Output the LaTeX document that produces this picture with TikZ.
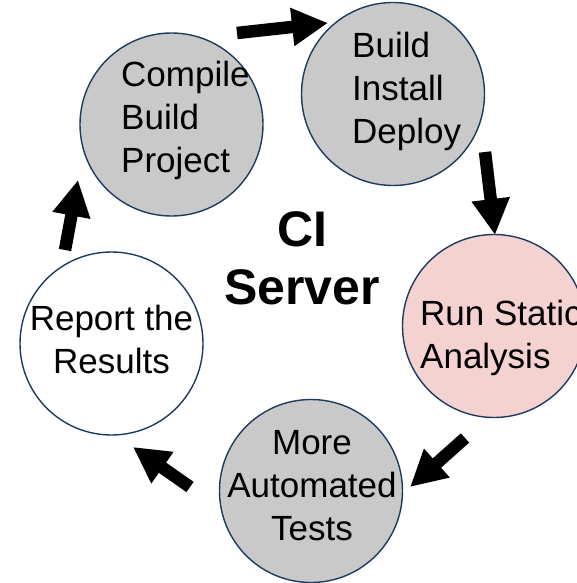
\documentclass[tikz,border=0pt]{standalone}
\usepackage{fontspec}
\setmainfont{Liberation Sans}
\usetikzlibrary{arrows.meta}
\definecolor{ringline}{HTML}{1F3A60}
\definecolor{stepgray}{HTML}{C9C9C9}
\definecolor{steppink}{HTML}{F4D2D0}
\tikzset{
  stepcircle/.style={circle, draw=ringline, line width=1.4pt, minimum size=183pt, inner sep=0pt},
  steptext/.style={inner sep=0pt, font=\fontsize{35}{43}\selectfont},
  bigarrow/.style={line width=12.5pt, -{Triangle[width=36pt,length=36pt]}},
}
\begin{document}
\begin{tikzpicture}[x=1pt,y=-1pt]
\useasboundingbox (0,0) rectangle (577,583);
\clip (0,0) rectangle (577,583);
% circles
\node[stepcircle, fill=stepgray] (compile) at (171.5,124.5) {};
\node[stepcircle, fill=stepgray] (deploy) at (393,94) {};
\node[stepcircle, fill=steppink] (static) at (494,326) {};
\node[stepcircle, fill=stepgray] (tests) at (311,491) {};
\node[stepcircle, fill=white] (report) at (111.5,343.5) {};
% texts
\node[steptext, align=left, anchor=west] (compiletxt) at (121,120.5) {Compile\\Build\\Project};
\node[steptext, align=left, anchor=west] (deploytxt) at (352,91) {Build\\Install\\Deploy};
\node[steptext, align=left, anchor=west] (statictxt) at (420,337.7) {Run Static\\Analysis};
\node[steptext, align=center] (teststxt) at (312,486) {More\\Automated\\Tests};
\node[steptext, align=center] (reporttxt) at (111.5,339) {Report the\\Results};
\node[inner sep=0pt, align=center, font=\fontsize{50}{58}\selectfont\bfseries] (ci) at (302,258) {CI\\Server};
% arrow end points
\coordinate (a1s) at (237,33);  \coordinate (a1e) at (328,23);
\coordinate (a2s) at (485,152); \coordinate (a2e) at (495,235);
\coordinate (a3s) at (465,438); \coordinate (a3e) at (410,487);
\coordinate (a4s) at (190,487); \coordinate (a4e) at (133,447);
\coordinate (a5s) at (65,250);  \coordinate (a5e) at (78,180);
\draw[bigarrow] (a1s) -- (a1e);
\draw[bigarrow] (a2s) -- (a2e);
\draw[bigarrow] (a3s) -- (a3e);
\draw[bigarrow] (a4s) -- (a4e);
\draw[bigarrow] (a5s) -- (a5e);
\end{tikzpicture}
\end{document}
